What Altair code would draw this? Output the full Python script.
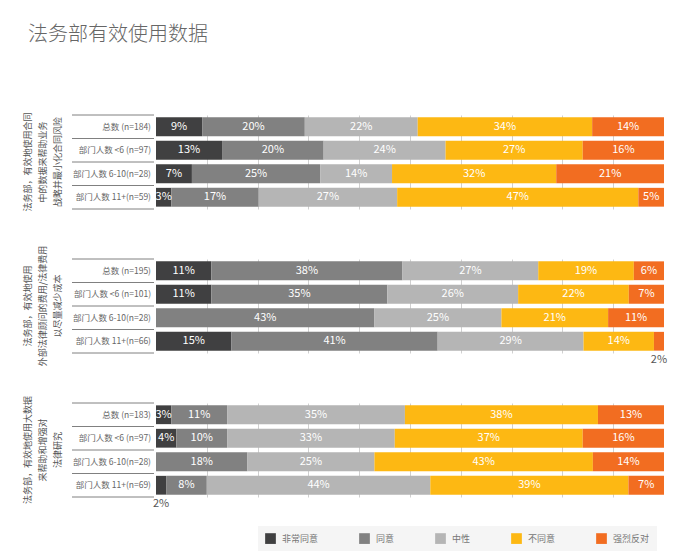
import altair as alt
import pandas as pd

FONT = "Noto Sans CJK SC"

categories = ["非常同意", "同意", "中性", "不同意", "强烈反对"]
colors = ["#404041", "#818181", "#b5b5b5", "#fdb813", "#f26d21"]

title_text = "法务部有效使用数据"

p1_side = ["法务部，有效地使用合同", "中的数据来帮助业务", "战略并最小化合同风险"]
p1_rows = ["总数 (n=184)", "部门人数 <6 (n=97)", "部门人数 6-10(n=28)", "部门人数 11+(n=59)"]
p1_values = [[9, 20, 22, 34, 14], [13, 20, 24, 27, 16], [7, 25, 14, 32, 21], [3, 17, 27, 47, 5]]

p2_side = ["法务部，有效地使用", "外部法律顾问的费用/法律费用", "以尽量减少成本"]
p2_rows = ["总数 (n=195)", "部门人数 <6 (n=101)", "部门人数 6-10(n=28)", "部门人数 11+(n=66)"]
p2_values = [[11, 38, 27, 19, 6], [11, 35, 26, 22, 7], [0, 43, 25, 21, 11], [15, 41, 29, 14, 2]]

p3_side = ["法务部，有效地使用大数据", "来帮助和增强对", "法律研究"]
p3_rows = ["总数 (n=183)", "部门人数 <6 (n=97)", "部门人数 6-10(n=28)", "部门人数 11+(n=69)"]
p3_values = [[3, 11, 35, 38, 13], [4, 10, 33, 37, 16], [0, 18, 25, 43, 14], [2, 8, 44, 39, 7]]

W, H = 508, 94
GAP = 2.35
grid_vals = [round(0.1 * i, 1) for i in range(1, 10)]


def panel(rows, values, side, key):
    recs = []
    for row, vals in zip(rows, values):
        for i, (cat, v) in enumerate(zip(categories, vals)):
            recs.append({"row": row, "cat": cat, "order": i, "v": v})
    df = pd.DataFrame(recs)
    yscale = alt.Scale(domain=rows, paddingInner=0.2, paddingOuter=0.1)
    yenc = alt.Y("row:N", sort=rows, scale=yscale, axis=None)
    xscale = alt.Scale(domain=[0, 1], nice=False, zero=False)

    base = (
        alt.Chart(df)
        .transform_joinaggregate(total="sum(v)", groupby=["row"])
        .transform_calculate(pct="datum.v / datum.total")
        .transform_stack(stack="pct", groupby=["row"], as_=["x0", "x1"],
                         sort=[alt.SortField("order", order="ascending")])
        .transform_calculate(mid="(datum.x0 + datum.x1) / 2", label="datum.v + '%'")
    )
    bars = base.transform_filter("datum.v > 0").mark_bar(stroke=None).encode(
        x=alt.X("x0:Q", scale=xscale,
                axis=alt.Axis(values=grid_vals, grid=True, gridColor="#d0d0d0", gridWidth=1,
                              labels=False, ticks=False, domain=False, title=None)),
        x2="x1:Q",
        y=yenc,
        color=alt.Color("cat:N", scale=alt.Scale(domain=categories, range=colors),
                        legend=alt.Legend(orient="none", legendX=102, legendY=411,
                                          direction="horizontal", columns=5, title=None,
                                          symbolType="square", symbolSize=115,
                                          symbolStrokeWidth=0, labelFontSize=9,
                                          labelColor="#777777", labelFont=FONT,
                                          columnPadding=40, fillColor="#f5f5f5",
                                          padding=7, labelOffset=6)),
    )
    inner = base.transform_filter("datum.v >= 3").mark_text(
        color="white", fontSize=11, font=FONT).encode(
        x=alt.X("mid:Q", scale=xscale), y=yenc, text="label:N")
    outer = base.transform_filter("datum.v > 0 && datum.v < 3").mark_text(
        color="#555555", fontSize=11, font=FONT, dy=19).encode(
        x=alt.X("mid:Q", scale=xscale), y=yenc, text="label:N")

    rdf = pd.DataFrame({"row": rows})
    rowlab = alt.Chart(rdf).mark_text(
        align="right", baseline="middle", fontSize=8.5, color="#666666", font=FONT, dx=-5).encode(
        x=alt.value(0), y=yenc, text="row:N")
    seps = alt.Chart(rdf).mark_rule(color="#808080", strokeWidth=1, yOffset=-GAP).encode(
        x=alt.value(-84), x2=alt.value(-2),
        y=alt.Y("row:N", sort=rows, scale=yscale, axis=None, bandPosition=0))
    last = alt.Chart(rdf.tail(1)).mark_rule(color="#808080", strokeWidth=1, yOffset=GAP).encode(
        x=alt.value(-84), x2=alt.value(-2),
        y=alt.Y("row:N", sort=rows, scale=yscale, axis=None, bandPosition=1))
    sidetxt = alt.Chart(pd.DataFrame({"k": [key]})).mark_text(
        text=side, angle=270, align="center", baseline="middle", fontSize=9,
        lineHeight=15, color="#555555", font=FONT).encode(
        x=alt.value(-128), y=alt.value(H / 2))

    return alt.layer(bars, inner, outer, rowlab, seps, last, sidetxt).properties(width=W, height=H)


c1 = panel(p1_rows, p1_values, p1_side, 1)
c2 = panel(p2_rows, p2_values, p2_side, 2)
c3 = panel(p3_rows, p3_values, p3_side, 3)

chart = (
    alt.vconcat(c1, c2, c3, spacing=50, bounds="flush")
    .properties(
        title=alt.TitleParams(title_text, anchor="start", frame="group", fontSize=20,
                              font=FONT, color="#666666", fontWeight=300, dx=-128,
                              offset=67),
        padding={"left": 24, "top": 25, "right": 25, "bottom": 2},
    )
    .configure_view(stroke=None)
)

chart.save("out.html", embed_options={"renderer": "svg", "actions": False})
